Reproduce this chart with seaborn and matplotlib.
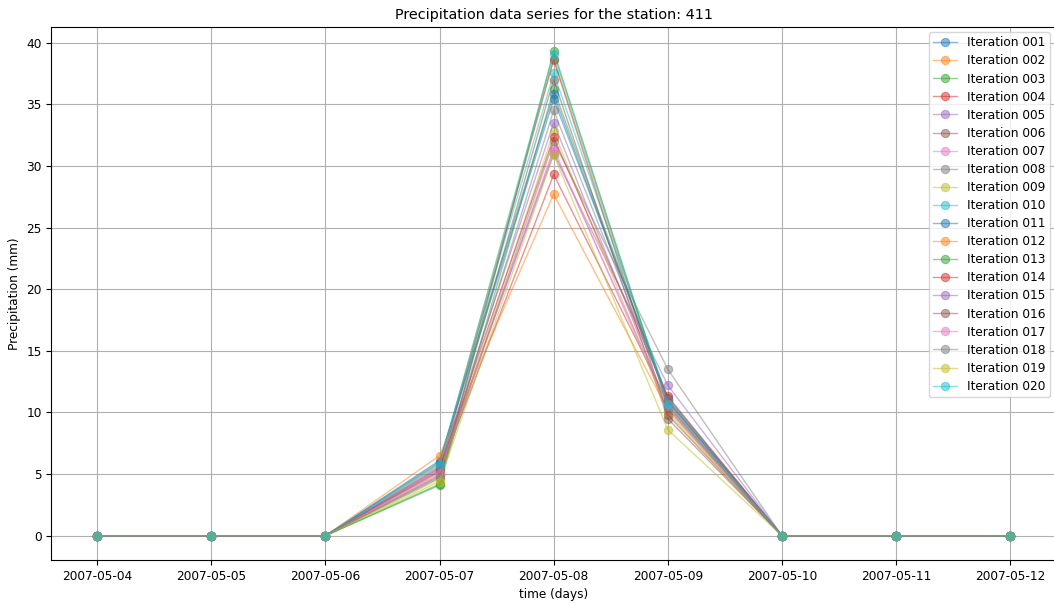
import matplotlib
matplotlib.use("Agg")
import matplotlib.pyplot as plt
import matplotlib.dates as mdates
import seaborn as sns
import pandas as pd
import numpy as np

dates = pd.to_datetime(["2007-05-04", "2007-05-05", "2007-05-06", "2007-05-07",
                        "2007-05-08", "2007-05-09", "2007-05-10", "2007-05-11", "2007-05-12"])

labels = [f"Iteration {i:03d}" for i in range(1, 21)]

# values on 2007-05-07, 2007-05-08, 2007-05-09 (all other days are 0)
v07 = [5.9, 5.8, 4.1, 5.2, 5.4, 4.9, 5.0, 4.7, 4.6, 6.0,
       6.1, 6.5, 4.2, 5.5, 5.6, 5.3, 5.1, 4.8, 4.4, 5.7]
v08 = [35.4, 38.7, 36.2, 29.3, 31.0, 37.0, 31.4, 32.0, 32.8, 37.5,
       35.8, 27.7, 39.3, 32.3, 33.5, 38.6, 31.2, 34.5, 30.9, 39.1]
v09 = [11.2, 10.5, 11.0, 10.8, 12.2, 9.5, 10.3, 13.5, 10.0, 11.1,
       10.9, 10.2, 10.6, 11.3, 10.4, 9.8, 10.7, 11.0, 8.6, 10.6]

zeros_before = [0.0, 0.0, 0.0]
zeros_after = [0.0, 0.0, 0.0]

colors = sns.color_palette("tab10", 10) * 2

plt.rcParams["font.size"] = 8.7
plt.rcParams["axes.titlesize"] = 10.4

fig = plt.figure(figsize=(10.54, 6.03), dpi=100)
ax = fig.add_axes([0.0488, 0.0713, 0.953, 0.884])

for i, lab in enumerate(labels):
    vals = zeros_before + [v07[i], v08[i], v09[i]] + zeros_after
    df = pd.DataFrame({"date": dates, "value": vals})
    sns.lineplot(data=df, x="date", y="value", ax=ax, color=colors[i], marker="o",
                 alpha=0.5, label=lab, markeredgecolor=colors[i], markersize=6,
                 linewidth=1)

ax.set_xticks(dates)
ax.xaxis.set_major_formatter(mdates.DateFormatter("%Y-%m-%d"))
ax.grid(True, color="#b0b0b0", linewidth=0.8)
ax.set_axisbelow(True)
ax.spines["right"].set_visible(False)
ax.set_title("Precipitation data series for the station: 411")
ax.set_xlabel("time (days)")
ax.set_ylabel("Precipitation (mm)")
ax.legend(loc="upper right", bbox_to_anchor=(0.9975, 0.997), borderaxespad=0.3,
          labelspacing=0.42, borderpad=0.35)

fig.savefig("out.png", dpi=100)
